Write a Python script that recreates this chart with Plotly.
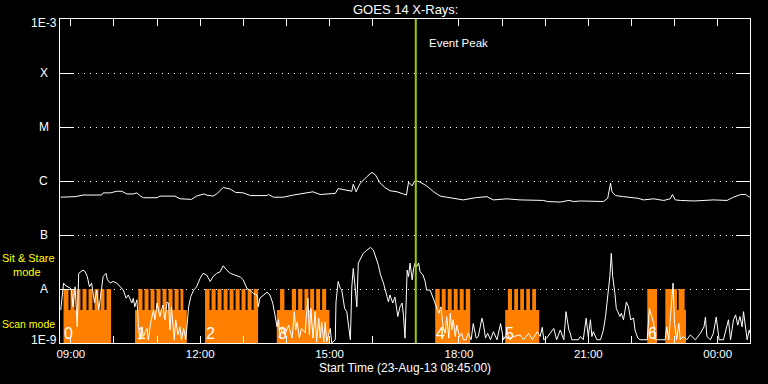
import pandas as pd
import plotly.graph_objects as go

START = pd.Timestamp("2013-08-23 08:45:00")
END = pd.Timestamp("2013-08-24 00:45:00")
EVENT_PEAK = pd.Timestamp("2013-08-23 17:00:00")

# GOES long channel (1-8 A): minutes after start, log10 flux (W/m^2)
long_min = [1, 7, 21, 32, 58, 60, 70, 79, 86, 93, 102, 107, 111, 116, 135, 139, 160, 167, 179, 183,
            190, 200, 204, 213, 218, 227, 237, 244, 255, 265, 288, 290, 297, 311, 325, 343, 352, 362, 376, 383,
            387, 399, 406, 408, 412, 415, 418, 427, 434, 439, 445, 452, 459, 469, 476, 482, 485, 490, 493, 497,
            501, 510, 520, 529, 538, 552, 561, 578, 594, 603, 622, 640, 673, 678, 696, 708, 715, 724, 742, 756,
            762, 766, 768, 773, 784, 793, 804, 812, 826, 840, 849, 852, 856, 863, 882, 896, 909, 928, 937, 947,
            954, 958, 960]
long_log_flux = [-6.30, -6.30, -6.29, -6.26, -6.26, -6.22, -6.22, -6.19, -6.19, -6.24,
                 -6.24, -6.22, -6.27, -6.31, -6.31, -6.28, -6.28, -6.33, -6.33, -6.34,
                 -6.28, -6.24, -6.26, -6.28, -6.24, -6.12, -6.15, -6.21, -6.22, -6.27,
                 -6.27, -6.25, -6.30, -6.30, -6.26, -6.22, -6.20, -6.25, -6.24, -6.23,
                 -6.14, -6.17, -6.19, -6.06, -6.20, -6.11, -6.04, -5.92, -5.84, -5.89,
                 -6.03, -6.12, -6.18, -6.20, -6.23, -6.26, -6.02, -6.09, -6.01, -6.00,
                 -6.02, -6.09, -6.20, -6.28, -6.30, -6.33, -6.35, -6.31, -6.29, -6.35,
                 -6.33, -6.35, -6.36, -6.38, -6.39, -6.36, -6.38, -6.37, -6.38, -6.38,
                 -6.32, -6.04, -6.20, -6.27, -6.29, -6.30, -6.32, -6.35, -6.33, -6.36,
                 -6.33, -6.25, -6.35, -6.36, -6.37, -6.36, -6.35, -6.36, -6.30, -6.25,
                 -6.25, -6.29, -6.30]

# GOES short channel (0.5-4 A)
short_min = [1, 5, 8, 14, 16, 18, 21, 24, 26, 29, 32, 35, 38, 41, 44, 48, 51, 54, 57, 60,
             64, 66, 70, 74, 79, 84, 88, 92, 95, 100, 102, 104, 107, 109, 111, 114, 116, 121, 123, 126,
             130, 132, 135, 139, 143, 146, 149, 151, 153, 155, 159, 161, 164, 167, 169, 172, 175, 179, 182, 186,
             190, 195, 199, 204, 209, 213, 218, 223, 227, 232, 237, 241, 246, 251, 255, 260, 264, 269, 274, 276,
             278, 283, 288, 292, 296, 299, 302, 304, 306, 309, 313, 318, 323, 326, 328, 330, 333, 336, 341, 345,
             347, 349, 352, 355, 357, 360, 362, 364, 367, 369, 371, 376, 378, 383, 384, 387, 390, 392, 396, 399,
             401, 404, 406, 408, 411, 413, 415, 419, 422, 427, 432, 436, 440, 443, 446, 450, 455, 457, 459, 463,
             466, 470, 473, 476, 478, 480, 483, 485, 487, 490, 492, 494, 496, 499, 501, 505, 508, 510, 515, 519,
             522, 527, 530, 533, 536, 538, 541, 543, 545, 547, 550, 552, 556, 559, 561, 565, 568, 572, 575, 579,
             582, 587, 589, 592, 595, 599, 603, 608, 613, 617, 622, 626, 631, 640, 645, 652, 657, 664, 668, 671,
             673, 677, 682, 687, 691, 696, 701, 704, 708, 710, 712, 717, 721, 724, 728, 732, 735, 738, 740, 742,
             747, 752, 756, 759, 762, 765, 767, 769, 772, 774, 776, 779, 781, 784, 788, 791, 794, 798, 800, 804,
             807, 813, 817, 820, 824, 826, 828, 833, 837, 842, 844, 847, 850, 853, 855, 858, 861, 863, 867, 872,
             877, 884, 891, 896, 898, 900, 905, 909, 913, 917, 923, 930, 933, 937, 940, 943, 946, 949, 951, 954,
             956, 959, 960]
short_log_flux = [-8.39, -7.89, -7.94, -7.98, -8.02, -8.33, -7.96, -8.70, -7.71, -7.68,
                  -7.65, -7.68, -7.77, -7.96, -7.89, -8.26, -8.02, -8.39, -8.02, -7.77,
                  -7.71, -7.83, -7.89, -7.86, -7.89, -7.96, -8.02, -8.17, -8.11, -8.26,
                  -8.17, -8.33, -8.20, -8.64, -8.94, -8.70, -8.88, -8.73, -8.94, -8.64,
                  -8.39, -8.57, -8.26, -8.51, -8.30, -8.57, -8.24, -8.26, -8.76, -8.33,
                  -8.94, -8.57, -8.85, -8.70, -8.94, -8.73, -8.94, -8.33, -8.14, -8.02,
                  -7.96, -7.80, -7.71, -7.74, -7.86, -7.77, -7.71, -7.68, -7.57, -7.65,
                  -7.71, -7.73, -7.76, -7.78, -7.83, -7.99, -8.02, -8.08, -8.11, -8.33,
                  -8.17, -8.11, -8.06, -8.11, -8.26, -8.48, -8.70, -8.57, -8.91, -8.70,
                  -8.85, -8.67, -8.91, -8.42, -8.76, -8.61, -8.91, -8.73, -8.81, -8.17,
                  -8.85, -8.36, -8.91, -8.42, -8.98, -8.54, -8.91, -8.61, -8.98, -8.61,
                  -8.98, -8.73, -9.00, -8.94, -8.24, -7.86, -7.99, -8.02, -8.36, -8.42,
                  -8.67, -8.94, -7.96, -7.62, -8.02, -8.33, -7.52, -7.43, -7.34, -7.28,
                  -7.23, -7.28, -7.43, -7.56, -7.74, -7.89, -8.14, -8.24, -8.11, -8.26,
                  -8.15, -8.51, -8.33, -8.26, -8.51, -8.91, -7.65, -7.77, -7.52, -7.83,
                  -7.62, -7.52, -7.59, -7.52, -7.68, -7.74, -7.86, -8.02, -8.02, -8.17,
                  -8.26, -8.45, -8.33, -8.70, -8.82, -8.51, -8.91, -8.45, -8.76, -8.57,
                  -8.88, -8.67, -8.88, -8.82, -8.94, -8.94, -8.82, -8.94, -8.64, -8.91,
                  -8.88, -8.54, -8.64, -8.91, -8.82, -8.94, -8.79, -8.94, -8.64, -8.94,
                  -8.82, -8.94, -8.88, -8.85, -8.94, -8.82, -8.94, -8.79, -8.88, -8.71,
                  -8.94, -8.91, -8.82, -8.73, -8.94, -8.76, -8.94, -8.42, -8.76, -8.82,
                  -8.94, -8.94, -8.94, -8.88, -8.94, -8.54, -8.88, -8.57, -8.88, -8.79,
                  -8.94, -8.94, -8.76, -8.51, -8.14, -7.77, -7.34, -7.77, -8.08, -8.36,
                  -8.42, -8.51, -8.45, -8.57, -8.24, -8.33, -8.57, -8.54, -8.76, -8.91,
                  -8.94, -8.94, -8.94, -8.36, -8.57, -8.64, -8.94, -8.94, -8.94, -8.94,
                  -8.70, -8.94, -8.39, -7.89, -8.64, -8.94, -8.64, -8.94, -8.88, -8.94,
                  -8.85, -8.94, -8.82, -8.70, -8.52, -8.88, -8.94, -8.82, -8.52, -8.94,
                  -8.94, -8.57, -8.94, -8.57, -8.48, -8.67, -8.51, -8.70, -8.42, -8.79,
                  -8.94, -8.76, -8.82]

# Observing mode step series: minute of change, mode after it (0 none, 1 scan, 2 sit & stare)
mode_change_min = [4.9, 11.8, 14.6, 20.2, 23.0, 28.5, 31.3, 36.9, 39.7, 45.2, 48.0, 53.6, 56.4, 61.9, 64.7, 71.0,
                   104.4, 109.0, 114.8, 117.6, 123.2, 126.0, 131.5, 134.3, 139.9, 142.7, 148.2, 151.0, 156.6, 159.4,
                   165.0, 167.7, 171.6, 176.4,
                   201.8, 208.1, 210.9, 216.5, 219.2, 224.8, 227.6, 233.2, 235.9, 241.5, 244.3, 249.9, 252.6, 258.2,
                   261.0, 266.6, 269.4, 275.6,
                   301.6, 306.2, 312.2, 322.5, 328.5, 331.3, 337.3, 340.1, 345.6, 348.0, 353.6, 356.4, 361.9, 364.7,
                   370.3, 374.9,
                   522.0, 528.3, 531.1, 536.6, 539.4, 545.0, 547.8, 553.3, 556.1, 561.7, 564.5, 570.7,
                   619.4, 623.2, 628.8, 632.0, 637.2, 640.3, 645.5, 648.7, 653.8, 657.0, 662.2, 666.8,
                   817.1, 830.6, 842.2, 858.4, 860.7, 869.0, 870.9]
mode_after = [2, 1, 2, 1, 2, 1, 2, 1, 2, 1, 2, 1, 2, 1, 2, 0,
              1, 2, 1, 2, 1, 2, 1, 2, 1, 2, 1, 2, 1, 2, 1, 2, 1, 0,
              2, 1, 2, 1, 2, 1, 2, 1, 2, 1, 2, 1, 2, 1, 2, 1, 2, 0,
              1, 2, 1, 2, 1, 2, 1, 2, 1, 2, 1, 2, 1, 2, 1, 0,
              2, 1, 2, 1, 2, 1, 2, 1, 2, 1, 2, 0,
              1, 2, 1, 2, 1, 2, 1, 2, 1, 2, 1, 0,
              2, 0, 2, 1, 2, 1, 0]
mode_top_log = {1: -8.39, 2: -8.0}

block_label_min = [12, 113, 209, 310, 530, 626, 824]
block_labels = ["0", "1", "2", "3", "4", "5", "6"]

level_values = [-9, -8, -7, -6, -5, -4, -3]
level_labels = ["1E-9", "A", "B", "C", "M", "X", "1E-3"]

assert len(long_min) == len(long_log_flux)
assert len(short_min) == len(short_log_flux)
assert len(mode_change_min) == len(mode_after)


def t(m):
    return START + pd.Timedelta(minutes=m)


FONT = "Liberation Sans"
WHITE = "#ffffff"
ORANGE = "#ff8000"
YELLOW = "#ffff00"
BOTTOM = level_values[0]

# build orange mode polygons
mx, my = [], []
cur = 0
for tm, md in zip(mode_change_min, mode_after):
    if cur == 0 and md != 0:
        mx += [t(tm), t(tm)]
        my += [BOTTOM, mode_top_log[md]]
    elif cur != 0 and md != 0:
        mx += [t(tm), t(tm)]
        my += [mode_top_log[cur], mode_top_log[md]]
    elif cur != 0 and md == 0:
        mx += [t(tm), t(tm), None]
        my += [mode_top_log[cur], BOTTOM, None]
    cur = md

fig = go.Figure()
fig.add_trace(go.Scatter(x=mx, y=my, mode="lines", fill="toself", fillcolor=ORANGE,
                         line=dict(width=0, color=ORANGE), hoverinfo="skip", showlegend=False))
fig.add_trace(go.Scatter(x=[t(m) for m in short_min], y=short_log_flux, mode="lines",
                         line=dict(color=WHITE, width=1), showlegend=False))
fig.add_trace(go.Scatter(x=[t(m) for m in long_min], y=long_log_flux, mode="lines",
                         line=dict(color=WHITE, width=1), showlegend=False))
fig.add_trace(go.Scatter(x=[START], y=[BOTTOM], xaxis="x2", mode="markers",
                         marker=dict(opacity=0), hoverinfo="skip", showlegend=False))

fig.add_shape(type="line", x0=EVENT_PEAK, x1=EVENT_PEAK, xref="x", yref="paper", y0=0, y1=1,
              line=dict(color="#99cc00", width=2), layer="above")

ann = []
# y level labels centered left of axis
yshift = {-3: -4, -9: 3}
for v, lab in zip(level_values, level_labels):
    ann.append(dict(text=lab, x=-0.0232, xref="paper", y=v, yref="y", xanchor="center",
                    yanchor="middle", yshift=yshift.get(v, 0), showarrow=False,
                    font=dict(family=FONT, size=12, color=WHITE)))
for m, lab in zip(block_label_min, block_labels):
    ann.append(dict(text=lab, x=t(m), xref="x", y=-8.815, yref="y", xanchor="center", yanchor="middle",
                    showarrow=False, borderpad=0, font=dict(family=FONT, size=16, color=WHITE)))
ann += [
    dict(text="GOES 14 X-Rays:", x=0.5, y=(343 - 9) / 324, xref="paper", yref="paper",
         xanchor="center", yanchor="middle", showarrow=False, font=dict(family=FONT, size=13, color=WHITE)),
    dict(text="Start Time (23-Aug-13 08:45:00)", x=0.5, y=(343 - 368) / 324, xref="paper", yref="paper",
         xanchor="center", yanchor="middle", showarrow=False, font=dict(family=FONT, size=12, color=WHITE)),
    dict(text="Event Peak", x=(427 - 60) / 690, y=(343 - 43) / 324, xref="paper", yref="paper",
         xanchor="left", yanchor="middle", showarrow=False, font=dict(family=FONT, size=11.5, color=WHITE)),
    dict(text="Sit & Stare", x=(1 - 60) / 690, y=(343 - 257.5) / 324, xref="paper", yref="paper",
         xanchor="left", yanchor="middle", showarrow=False, borderpad=0,
         font=dict(family=FONT, size=11, color=YELLOW)),
    dict(text="mode", x=(12 - 60) / 690, y=(343 - 271.5) / 324, xref="paper", yref="paper",
         xanchor="left", yanchor="middle", showarrow=False, borderpad=0,
         font=dict(family=FONT, size=11, color=YELLOW)),
    dict(text="Scan mode", x=(1 - 60) / 690, y=(343 - 323.5) / 324, xref="paper", yref="paper",
         xanchor="left", yanchor="middle", showarrow=False, borderpad=0,
         font=dict(family=FONT, size=10.5, color=YELLOW)),
]

fig.update_layout(
    width=768, height=384,
    margin=dict(l=60, r=18, t=19, b=41),
    paper_bgcolor="#000000", plot_bgcolor="#000000",
    showlegend=False,
    annotations=ann,
    xaxis=dict(type="date", range=[START, END], tick0="2013-08-23 09:00:00", dtick=3 * 3600000,
               tickformat="%H:%M", ticks="inside", ticklen=7, tickcolor=WHITE, tickwidth=1,
               showline=True, linecolor=WHITE, linewidth=1, showgrid=False, zeroline=False,
               tickfont=dict(family=FONT, size=11.5, color=WHITE),
               minor=dict(dtick=3600000, ticks="inside", ticklen=7, tickcolor=WHITE, showgrid=False)),
    xaxis2=dict(type="date", overlaying="x", side="top", range=[START, END], tick0="2013-08-23 09:00:00",
                dtick=3600000, ticks="inside", ticklen=7, tickcolor=WHITE, showline=True, linecolor=WHITE,
                linewidth=1, showticklabels=False, showgrid=False, zeroline=False),
    yaxis=dict(range=[-9, -3], tickvals=level_values, ticks="inside", ticklen=14, tickcolor=WHITE,
               showline=True, linecolor=WHITE, linewidth=1, mirror="ticks", showticklabels=False,
               showgrid=True, gridcolor=WHITE, gridwidth=1, griddash="1px,5px", zeroline=False),
)

fig.write_html("out.html")
